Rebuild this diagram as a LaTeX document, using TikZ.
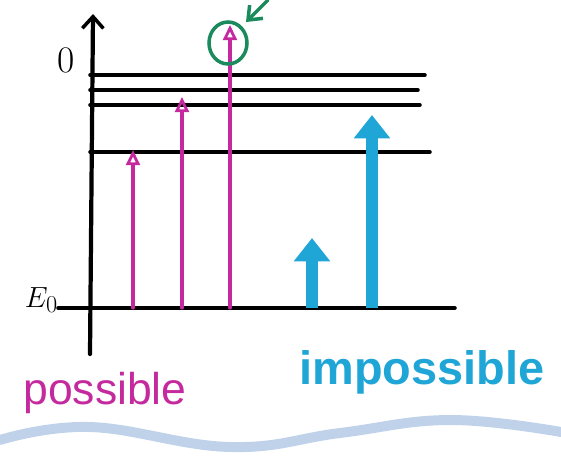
\documentclass[tikz,border=0pt]{standalone}
\usepackage{fontspec}
\setsansfont{Liberation Sans}
\usetikzlibrary{arrows.meta}
\definecolor{possibleMagenta}{HTML}{C42A9E}
\definecolor{impossibleBlue}{HTML}{1FA5D6}
\definecolor{markGreen}{HTML}{1B8A5C}
\definecolor{waveBlue}{HTML}{AFC7E4}

\begin{document}
\begin{tikzpicture}[x=0.03cm, y=-0.03cm, >=Latex, line cap=round]
    \useasboundingbox (0,0) rectangle (561,465);

    % axis
    \coordinate (axisbot) at (90,354);
    \coordinate (axistop) at (93,14);
    \draw[line width=3.6pt, -{Straight Barb[length=10pt,width=18pt,line width=3pt]}] (axisbot) -- (axistop);
    \node[font=\fontsize{32}{32}\selectfont] (zero) at (66,60) {0};

    % bound levels
    \foreach \y/\xe in {75/425, 90/418, 105/420, 152/430} {
        \draw[line width=3pt] (90,\y) -- (\xe,\y);
    }

    % ground level
    \node[font=\fontsize{30}{30}\selectfont, anchor=east, inner sep=0pt] (ezero) at (58,300) {$E_0$};
    \coordinate (groundend) at (455,308);
    \draw[line width=3pt] (ezero.east |- groundend) -- (groundend);

    % possible transitions
    \foreach \n/\x/\t in {a/133/150, b/182/97, c/230/25} {
        \coordinate (pbase\n) at (\x,308);
        \coordinate (ptip\n) at (\x,\t);
        \draw[possibleMagenta, line width=2.6pt, -{Triangle[open,length=13pt,width=12pt,line width=2.4pt]}] (pbase\n) -- (ptip\n);
    }

    % circled ionisation
    \draw[markGreen, line width=3pt] (228,43) ellipse (19 and 21);
    \coordinate (greenfrom) at (268,0);
    \coordinate (greento) at (246,22);
    \draw[markGreen, line width=3pt, -{Straight Barb[length=10pt,width=16pt,line width=3pt]}] (greenfrom) -- (greento);

    % impossible transitions
    \foreach \n/\x/\t in {a/312/238, b/372/115} {
        \coordinate (ibase\n) at (\x,308);
        \coordinate (itip\n) at (\x,\t);
        \draw[impossibleBlue, line width=10pt, line cap=butt, -{Triangle[length=20pt,width=30pt]}] (ibase\n) -- (itip\n);
    }

    % labels
    \node[possibleMagenta, font=\sffamily\fontsize{38}{38}\selectfont] (possible) at (105,393) {possible};
    \node[impossibleBlue, font=\sffamily\bfseries\fontsize{40}{40}\selectfont] (impossible) at (422,372) {impossible};

    % wave
    \draw[waveBlue, line width=8.5pt, opacity=0.8] plot[smooth, tension=0.7] coordinates {(0,440) (90,427) (230,447) (340,433) (450,420) (561,432)};

\end{tikzpicture}
\end{document}
